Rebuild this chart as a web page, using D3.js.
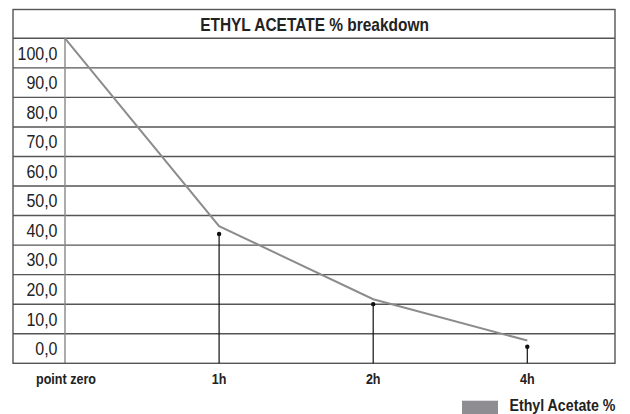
<!DOCTYPE html>
<html><head><meta charset="utf-8">
<script src="https://cdn.jsdelivr.net/npm/d3@7"></script>
<style>
html,body{margin:0;padding:0;background:#fff;}
svg{display:block;}
text{font-family:"Liberation Sans",Arial,sans-serif;}
</style></head>
<body>
<svg id="c" width="630" height="414"></svg>
<script>
const categories = ["point zero", "1h", "2h", "4h"];
const lineValues = [100, 42.2, 19.7, 7.0];
const dropValues = [null, 39.8, 18.2, 5.1];
const rowLabels = ["100,0","90,0","80,0","70,0","60,0","50,0","40,0","30,0","20,0","10,0","0,0"];
const title = "ETHYL ACETATE % breakdown";
const seriesName = "Ethyl Acetate %";

const svg = d3.select("#c");
const box = {left:13, top:9.5, right:615, bottom:363.3, titleBottom:38.3, labelRight:65};

const x = d3.scalePoint().domain(categories).range([box.labelRight, 527.3]);
const y = d3.scaleLinear().domain([0, 100]).range([box.bottom, box.titleBottom]);
const rows = d3.scaleBand().domain(rowLabels).range([box.titleBottom, box.bottom]);

function condensedText(g, px, py, str, opts, targetWidth) {
  const t = g.append("text").attr("font-size", opts.size)
    .attr("font-weight", opts.bold ? "bold" : "normal")
    .attr("fill", "#222").attr("text-anchor", opts.anchor || "start").text(str);
  const w = t.node().getComputedTextLength();
  const f = targetWidth ? targetWidth / w : opts.factor;
  t.attr("transform", `translate(${px},${py}) scale(${f},1)`);
  return f;
}

const gridColor = "#555";
svg.append("g").selectAll("line").data(rowLabels.slice(1)).join("line")
  .attr("x1", box.left).attr("x2", box.right)
  .attr("y1", d => rows(d)).attr("y2", d => rows(d))
  .attr("stroke", gridColor).attr("stroke-width", 1.4);
svg.append("line").attr("x1", box.left).attr("x2", box.right)
  .attr("y1", box.titleBottom).attr("y2", box.titleBottom)
  .attr("stroke", gridColor).attr("stroke-width", 1.4);
svg.append("line").attr("x1", box.labelRight).attr("x2", box.labelRight)
  .attr("y1", box.titleBottom).attr("y2", box.bottom)
  .attr("stroke", "#888").attr("stroke-width", 1.4);
svg.append("rect").attr("x", box.left).attr("y", box.top)
  .attr("width", box.right - box.left).attr("height", box.bottom - box.top)
  .attr("fill", "none").attr("stroke", gridColor).attr("stroke-width", 1.4);

const texts = svg.append("g");
condensedText(texts, 314.5, 31, title, {size:18, bold:true, anchor:"middle"}, 229);

let rowF = null;
rowLabels.forEach(d => {
  const py = rows(d) + rows.bandwidth()/2 + 6.6;
  if (rowF === null) rowF = condensedText(texts, 57.5, py, d, {size:18, anchor:"end"}, 40);
  else condensedText(texts, 57.5, py, d, {size:18, anchor:"end", factor:rowF});
});

const drops = categories.map((c,i) => ({c, v: dropValues[i]})).filter(d => d.v != null);
svg.append("g").selectAll("line").data(drops).join("line")
  .attr("x1", d => x(d.c)).attr("x2", d => x(d.c))
  .attr("y1", d => y(d.v)).attr("y2", box.bottom)
  .attr("stroke", "#111").attr("stroke-width", 1.2);
svg.append("g").selectAll("circle").data(drops).join("circle")
  .attr("cx", d => x(d.c)).attr("cy", d => y(d.v)).attr("r", 2.2).attr("fill", "#111");

const line = d3.line().x((d,i) => x(categories[i])).y(d => y(d));
svg.append("path").datum(lineValues).attr("d", line)
  .attr("fill", "none").attr("stroke", "#8c8c8e").attr("stroke-width", 2);

let xF = null;
categories.forEach(c => {
  if (xF === null) xF = condensedText(texts, x(c) + 1, 383.5, c, {size:15, bold:true, anchor:"middle"}, 60);
  else condensedText(texts, x(c), 383.5, c, {size:15, bold:true, anchor:"middle", factor:xF});
});

svg.append("rect").attr("x", 462).attr("y", 400.7).attr("width", 36).attr("height", 14)
  .attr("fill", "#8e8e92");
condensedText(texts, 509.5, 410.8, seriesName, {size:17, bold:true}, 106);
</script>
</body></html>
